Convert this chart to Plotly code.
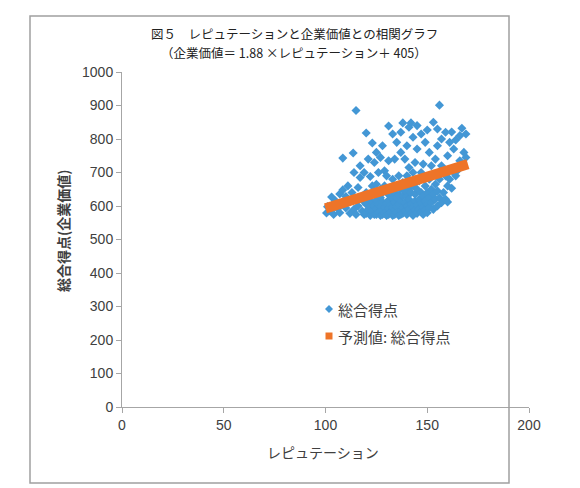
import plotly.graph_objects as go

# ---- data ----
cols = {
    100.5: [579], 101: [598], 102: [586], 103: [627], 104: [607, 575], 105: [615],
    106: [592], 107: [636, 580], 108.5: [648, 743], 109: [605], 110: [628, 594],
    111: [660], 112: [578, 612], 113: [640], 113.6: [758], 114: [590, 700],
    115: [885, 620, 575], 116: [655, 600], 117: [685, 720], 118: [585, 630],
    119: [612, 700, 575],
    120: [578, 605, 640, 818],
    121: [590, 622, 740],
    122: [572, 598, 632, 688],
    123: [585, 612, 660, 788],
    124: [575, 600, 645, 730],
    125: [592, 618, 575, 665, 760],
    126: [580, 605, 635, 700],
    127: [572, 598, 625, 650, 745],
    128: [588, 612, 575, 640, 780],
    129: [596, 578, 660, 705],
    130: [583, 607, 640, 572, 690],
    131: [592, 575, 618, 735, 839],
    132: [580, 603, 630, 655],
    133: [572, 595, 622, 680, 815],
    134: [588, 610, 640, 575, 740],
    135: [598, 580, 625, 660, 790],
    136: [572, 605, 632, 690],
    137: [585, 615, 650, 575, 760, 820],
    138: [595, 578, 630, 670, 848],
    139: [585, 610, 645, 740],
    140: [575, 600, 628, 690, 780],
    141: [590, 620, 655, 715, 835],
    142: [580, 605, 640, 848],
    143: [572, 598, 660, 700, 805],
    144: [588, 615, 635, 730],
    145: [578, 602, 650, 770, 840],
    146: [592, 620, 675],
    147: [582, 610, 640, 700, 815],
    148: [598, 575, 630, 725],
    149: [588, 615, 660, 790],
    150: [580, 605, 640, 827],
    151: [595, 625, 680, 760],
    152: [610, 650, 720],
    153: [590, 635, 850],
    154: [620, 665, 740],
    155: [600, 645, 780, 830],
    156: [625, 680, 901],
    157: [610, 720, 800],
    158: [640, 700],
    159: [620, 690, 820],
    160: [612, 660, 750],
    161: [680, 790],
    162: [653, 821],
    163: [700, 770],
    164: [690, 797],
    165: [707],
    166: [735, 810],
    167: [832, 720],
    168: [760],
    169: [745, 815],
}
rep_x = [x for x, ys in cols.items() for _ in ys]
score_y = [y for ys in cols.values() for y in ys]

pred_x = [100, 170]
pred_y = [593, 725]

x_ticks = [0, 50, 100, 150, 200]
y_ticks = [0, 100, 200, 300, 400, 500, 600, 700, 800, 900, 1000]

title1 = "図５　レピュテーションと企業価値との相関グラフ"
title2 = "（企業価値＝ 1.88 ×レピュテーション＋ 405）"
x_title = "レピュテーション"
y_title = "<b>総合得点(企業価値)</b>"
name1 = "総合得点"
name2 = "予測値: 総合得点"

BLUE = "#4397D5"
ORANGE = "#EE7428"
JP = "Noto Sans CJK JP"
NUM = "Liberation Sans"

fig = go.Figure()
fig.add_trace(go.Scatter(
    x=rep_x, y=score_y, mode="markers", name=name1, showlegend=False,
    marker=dict(symbol="diamond", size=7, color=BLUE, line=dict(width=0)),
))
fig.add_trace(go.Scatter(
    x=pred_x, y=pred_y, mode="lines", name=name2, showlegend=False,
    line=dict(color=ORANGE, width=10),
))

L, R, T, B = 122, 51, 72, 81
W, H = 580, 488
pw, ph = W - L - R, H - T - B

def px2x(p):
    return (p - L) / pw

def py2y(p):
    return (H - B - p) / ph

axis_common = dict(
    showgrid=False, zeroline=False, showline=True, linecolor="#A6A6A6", linewidth=1,
    ticks="outside", ticklen=5, tickcolor="#A6A6A6",
    tickfont=dict(family=NUM, size=14, color="#404040"),
)
fig.update_xaxes(range=[0, 200], tickvals=x_ticks, **axis_common)
fig.update_yaxes(range=[0, 1000], tickvals=y_ticks, **axis_common)

# legend drawn manually (symbol close to text, like the reference)
lx, ly1, ly2 = 329, 309, 336
d = 4
diamond = (f"M {px2x(lx)} {py2y(ly1 - d)} L {px2x(lx + d)} {py2y(ly1)} "
           f"L {px2x(lx)} {py2y(ly1 + d)} L {px2x(lx - d)} {py2y(ly1)} Z")
s = 3.5
shapes = [
    dict(type="rect", xref="paper", yref="paper",
         x0=px2x(30), x1=px2x(509), y0=py2y(483), y1=py2y(16),
         line=dict(color="#A0A0A0", width=1.5)),
    dict(type="path", xref="paper", yref="paper", path=diamond,
         fillcolor=BLUE, line=dict(width=0)),
    dict(type="rect", xref="paper", yref="paper",
         x0=px2x(lx - s), x1=px2x(lx + s), y0=py2y(ly2 + s), y1=py2y(ly2 - s),
         fillcolor=ORANGE, line=dict(width=0)),
]

def ann(text, xp, yp, size, color, xanchor="center", **kw):
    return dict(text=text, x=px2x(xp), y=py2y(yp), xref="paper", yref="paper",
                xanchor=xanchor, yanchor="middle", showarrow=False,
                font=dict(family=JP, size=size, color=color), **kw)

fig.update_layout(
    width=W, height=H,
    margin=dict(l=L, r=R, t=T, b=B),
    paper_bgcolor="white", plot_bgcolor="white",
    showlegend=False,
    annotations=[
        ann(title1, 294, 33, 12.5, "#222222"),
        ann(title2, 294, 53, 12.5, "#222222"),
        ann(x_title, 323, 452, 14, "#404040"),
        ann(y_title, 63, 231, 14, "#404040", textangle=-90),
        ann(name1, 336, ly1, 15, "#404040", xanchor="left"),
        ann(name2, 336, ly2, 15, "#404040", xanchor="left"),
    ],
    shapes=shapes,
)

fig.write_html("out.html")
